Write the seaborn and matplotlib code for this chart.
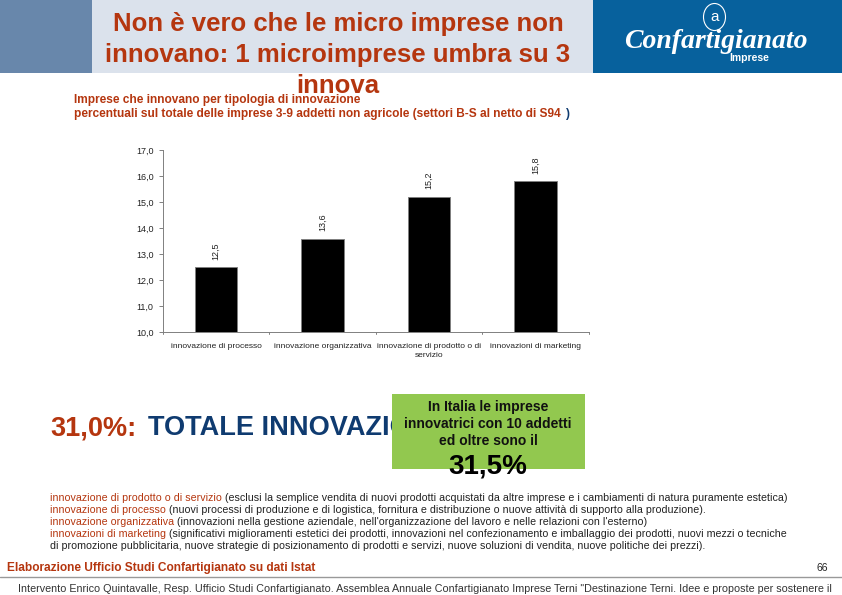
import matplotlib
matplotlib.use('Agg')
import matplotlib.pyplot as plt
from matplotlib.patches import Rectangle, Ellipse
import pandas as pd
import seaborn as sns

W, H = 842, 595

categories = ["innovazione di processo", "innovazione organizzativa",
              "innovazione di prodotto o di\nservizio", "innovazioni di marketing"]
values = [12.5, 13.6, 15.2, 15.8]
y_ticks = [10, 11, 12, 13, 14, 15, 16, 17]

title_lines = ["Non è vero che le micro imprese non",
               "innovano: 1 microimprese umbra su 3",
               "innova"]
notes = [
    ("innovazione di prodotto o di servizio", " (esclusi la semplice vendita di nuovi prodotti acquistati da altre imprese e i cambiamenti di natura puramente estetica)"),
    ("innovazione di processo", " (nuovi processi di produzione e di logistica, fornitura e distribuzione o nuove attività di supporto alla produzione)."),
    ("innovazione organizzativa", " (innovazioni nella gestione aziendale, nell'organizzazione del lavoro e nelle relazioni con l'esterno)"),
    ("innovazioni di marketing", " (significativi miglioramenti estetici dei prodotti, innovazioni nel confezionamento e imballaggio dei prodotti, nuovi mezzi o tecniche"),
    ("", "di promozione pubblicitaria, nuove strategie di posizionamento di prodotti e servizi, nuove soluzioni di vendita, nuove politiche dei prezzi)."),
]

RED = '#b5360f'
NAVY = '#0f3b70'

sns.set_theme(style='white')
plt.rcParams['font.family'] = ['Liberation Sans', 'DejaVu Sans']

fig = plt.figure(figsize=(W / 100, H / 100), dpi=100, facecolor='white')


def txt(x, y, s, **kw):
    # pixel coordinates, origin top left
    kw.setdefault('va', 'center')
    return fig.text(x / W, 1 - y / H, s, **kw)


def box(x, y, w, h, color, **kw):
    fig.add_artist(Rectangle((x / W, 1 - (y + h) / H), w / W, h / H, transform=fig.transFigure,
                             facecolor=color, edgecolor='none', **kw))


# header band
box(0, 0, 92, 73, '#6887ab')
box(92, 0, 501, 73, '#dbe2ec')
box(593, 0, 249, 73, '#07619d')

for y, line in zip([24, 55, 86], title_lines):
    txt(338, y, line, color=RED, fontsize=18.5, weight='bold', ha='center', zorder=5)

# logo
fig.add_artist(Ellipse((714.5 / W, 1 - 17 / H), 22 / W, 27 / H, transform=fig.transFigure,
                       facecolor='none', edgecolor='white', linewidth=0.8))
txt(714.5, 17, "a", color='white', fontsize=11, ha='center')
txt(716, 42, "Confartigianato", color='white', fontsize=20, ha='center',
    family='Liberation Serif', style='italic', weight='bold')
txt(749, 58, "Imprese", color='white', fontsize=7.5, ha='center', weight='bold')

# subtitle
txt(74, 100, "Imprese che innovano per tipologia di innovazione", color=RED,
    fontsize=8.55, weight='bold', zorder=6)
txt(74, 113.5, "percentuali sul totale delle imprese 3-9 addetti non agricole (settori B-S al netto di S94",
    color=RED, fontsize=8.55, weight='bold', zorder=6)
txt(565.5, 113.5, ")", color=NAVY, fontsize=8.55, weight='bold')

# bar chart
ax = fig.add_axes([162.7 / W, 1 - 332.3 / H, (589 - 162.7) / W, (332.3 - 150.3) / H])
df = pd.DataFrame({'tipo': categories, 'quota': values})
sns.barplot(data=df, x='tipo', y='quota', color='black', width=0.4, saturation=1,
            edgecolor='#808080', linewidth=0.7, ax=ax)
ax.set_ylim(10, 17)
ax.set_xlim(-0.5, 3.5)
ax.set_yticks(y_ticks)
ax.set_yticklabels([f"{t:.1f}".replace('.', ',') for t in y_ticks], fontsize=6.5, color='#222222')
ax.set_xticks(range(4))
ax.set_xticklabels(categories, fontsize=6.0, color='#222222', linespacing=1.5)
ax.set_xlabel('')
ax.set_ylabel('')
ax.spines['top'].set_visible(False)
ax.spines['right'].set_visible(False)
for side in ('left', 'bottom'):
    ax.spines[side].set_color('#808080')
    ax.spines[side].set_linewidth(0.7)
ax.tick_params(axis='y', left=True, length=3, width=0.7, color='#808080', pad=3.5)
ax.tick_params(axis='x', bottom=False, pad=1.7)
for edge in [-0.5, 0.5, 1.5, 2.5, 3.5]:
    ax.plot([edge, edge], [10, 9.93], color='#808080', lw=0.7, clip_on=False)
for i, v in enumerate(values):
    ax.annotate(f"{v:.1f}".replace('.', ','), (i, v), xytext=(0, 5.5), textcoords='offset points',
                rotation=90, ha='center', va='bottom', fontsize=6.5, color='#222222')

# total line and green callout
txt(50, 428, "31,0%:", color=RED, fontsize=19.5, weight='bold')
txt(148, 428, "TOTALE INNOVAZIONE", color=NAVY, fontsize=19.5, weight='bold')
box(392, 394, 193, 75, '#92c84f', zorder=8)
for y, line in zip([407, 424, 441], ["In Italia le imprese", "innovatrici con 10 addetti", "ed oltre sono il"]):
    txt(488, y, line, color='#111111', fontsize=10, weight='bold', ha='center', zorder=9)
txt(488, 467, "31,5%", color='black', fontsize=20, weight='bold', ha='center', zorder=9)

# definitions
renderer = fig.canvas.get_renderer()
for y, (head, rest) in zip([498, 510, 522, 534, 546], notes):
    x = 50
    if head:
        t = txt(x, y, head, color=RED, fontsize=7.68)
        x = t.get_window_extent(renderer).x1
    txt(x, y, rest, color='#222222', fontsize=7.68)

# footer
txt(7, 568, "Elaborazione Ufficio Studi Confartigianato su dati Istat", color=RED, fontsize=8.6, weight='bold')
txt(822, 568, "66", color='#222222', fontsize=7.5, ha='center')
fig.add_artist(plt.Line2D([0, 1], [1 - 576.5 / H] * 2, color='#999999', lw=1))
txt(18, 589, "Intervento Enrico Quintavalle, Resp. Ufficio Studi Confartigianato. Assemblea Annuale Confartigianato Imprese Terni \"Destinazione Terni. Idee e proposte per sostenere il",
    color='#333333', fontsize=7.71)

fig.savefig('out.png', dpi=100)
